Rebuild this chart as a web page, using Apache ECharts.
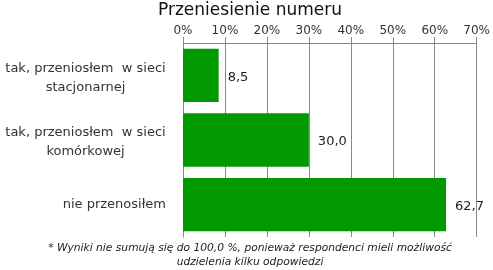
<!DOCTYPE html>
<html><head><meta charset="utf-8">
<script src="https://cdn.jsdelivr.net/npm/echarts@6/dist/echarts.min.js"></script>
<style>html,body{margin:0;padding:0;background:#fff}#c{width:493px;height:270px}</style>
</head><body><div id="c"></div>
<script>
const categories = ["tak, przeniosłem  w sieci\nstacjonarnej", "tak, przeniosłem  w sieci\nkomórkowej", "nie przenosiłem"];
const values = [8.5, 30.0, 62.7];
const titleText = "Przeniesienie numeru";
const footnote = "* Wyniki nie sumują się do 100,0 %, ponieważ respondenci mieli możliwość\nudzielenia kilku odpowiedzi";

const catData = categories.map(c => c.indexOf('\n') >= 0
  ? {value: c, textStyle: {padding: [5, 0, 0, 0]}}
  : {value: c});

const chart = echarts.init(document.getElementById('c'), null, {renderer: 'canvas'});
chart.setOption({
  animation: false,
  title: [{
    text: titleText, left: 250, top: 1, textAlign: 'center', padding: 0,
    textStyle: {fontFamily: 'DejaVu Sans', fontSize: 17, fontWeight: 'normal', color: '#111', lineHeight: 20}
  }, {
    text: footnote, left: 250, top: 241, textAlign: 'center', padding: 0,
    textStyle: {fontFamily: 'DejaVu Sans', fontSize: 10.7, fontStyle: 'italic', fontWeight: 'normal', color: '#222', lineHeight: 14}
  }],
  grid: {left: 183, right: 14, top: 43, bottom: 33, containLabel: false},
  xAxis: {
    type: 'value', position: 'top', min: 0, max: 70, interval: 10,
    axisLine: {show: true, lineStyle: {color: '#888'}},
    axisTick: {show: true, length: 6, lineStyle: {color: '#888'}},
    splitLine: {show: true, lineStyle: {color: '#888'}},
    axisLabel: {formatter: '{value}%', fontFamily: 'DejaVu Sans', fontSize: 12, color: '#333', margin: 6}
  },
  yAxis: {
    type: 'category', data: catData, inverse: true,
    axisLine: {show: true, lineStyle: {color: '#888'}},
    axisTick: {show: false},
    axisLabel: {
      margin: 17, align: 'right',
      formatter: v => v.indexOf('\n') >= 0
        ? v.split('\n').map(s => '{c|' + s + '}').join('\n')
        : '{r|' + v + '}',
      rich: {
        c: {fontFamily: 'DejaVu Sans', fontSize: 13, color: '#333', width: 161, align: 'center', lineHeight: 19},
        r: {fontFamily: 'DejaVu Sans', fontSize: 13, color: '#333', align: 'right', lineHeight: 19}
      }
    }
  },
  series: [{
    type: 'bar', data: values, barCategoryGap: '17.5%',
    itemStyle: {color: '#009900'},
    label: {
      show: true, position: 'right', distance: 9, offset: [0, 2],
      fontFamily: 'DejaVu Sans', fontSize: 13, color: '#222',
      formatter: p => p.value.toFixed(1).replace('.', ',')
    }
  }]
});
</script></body></html>
